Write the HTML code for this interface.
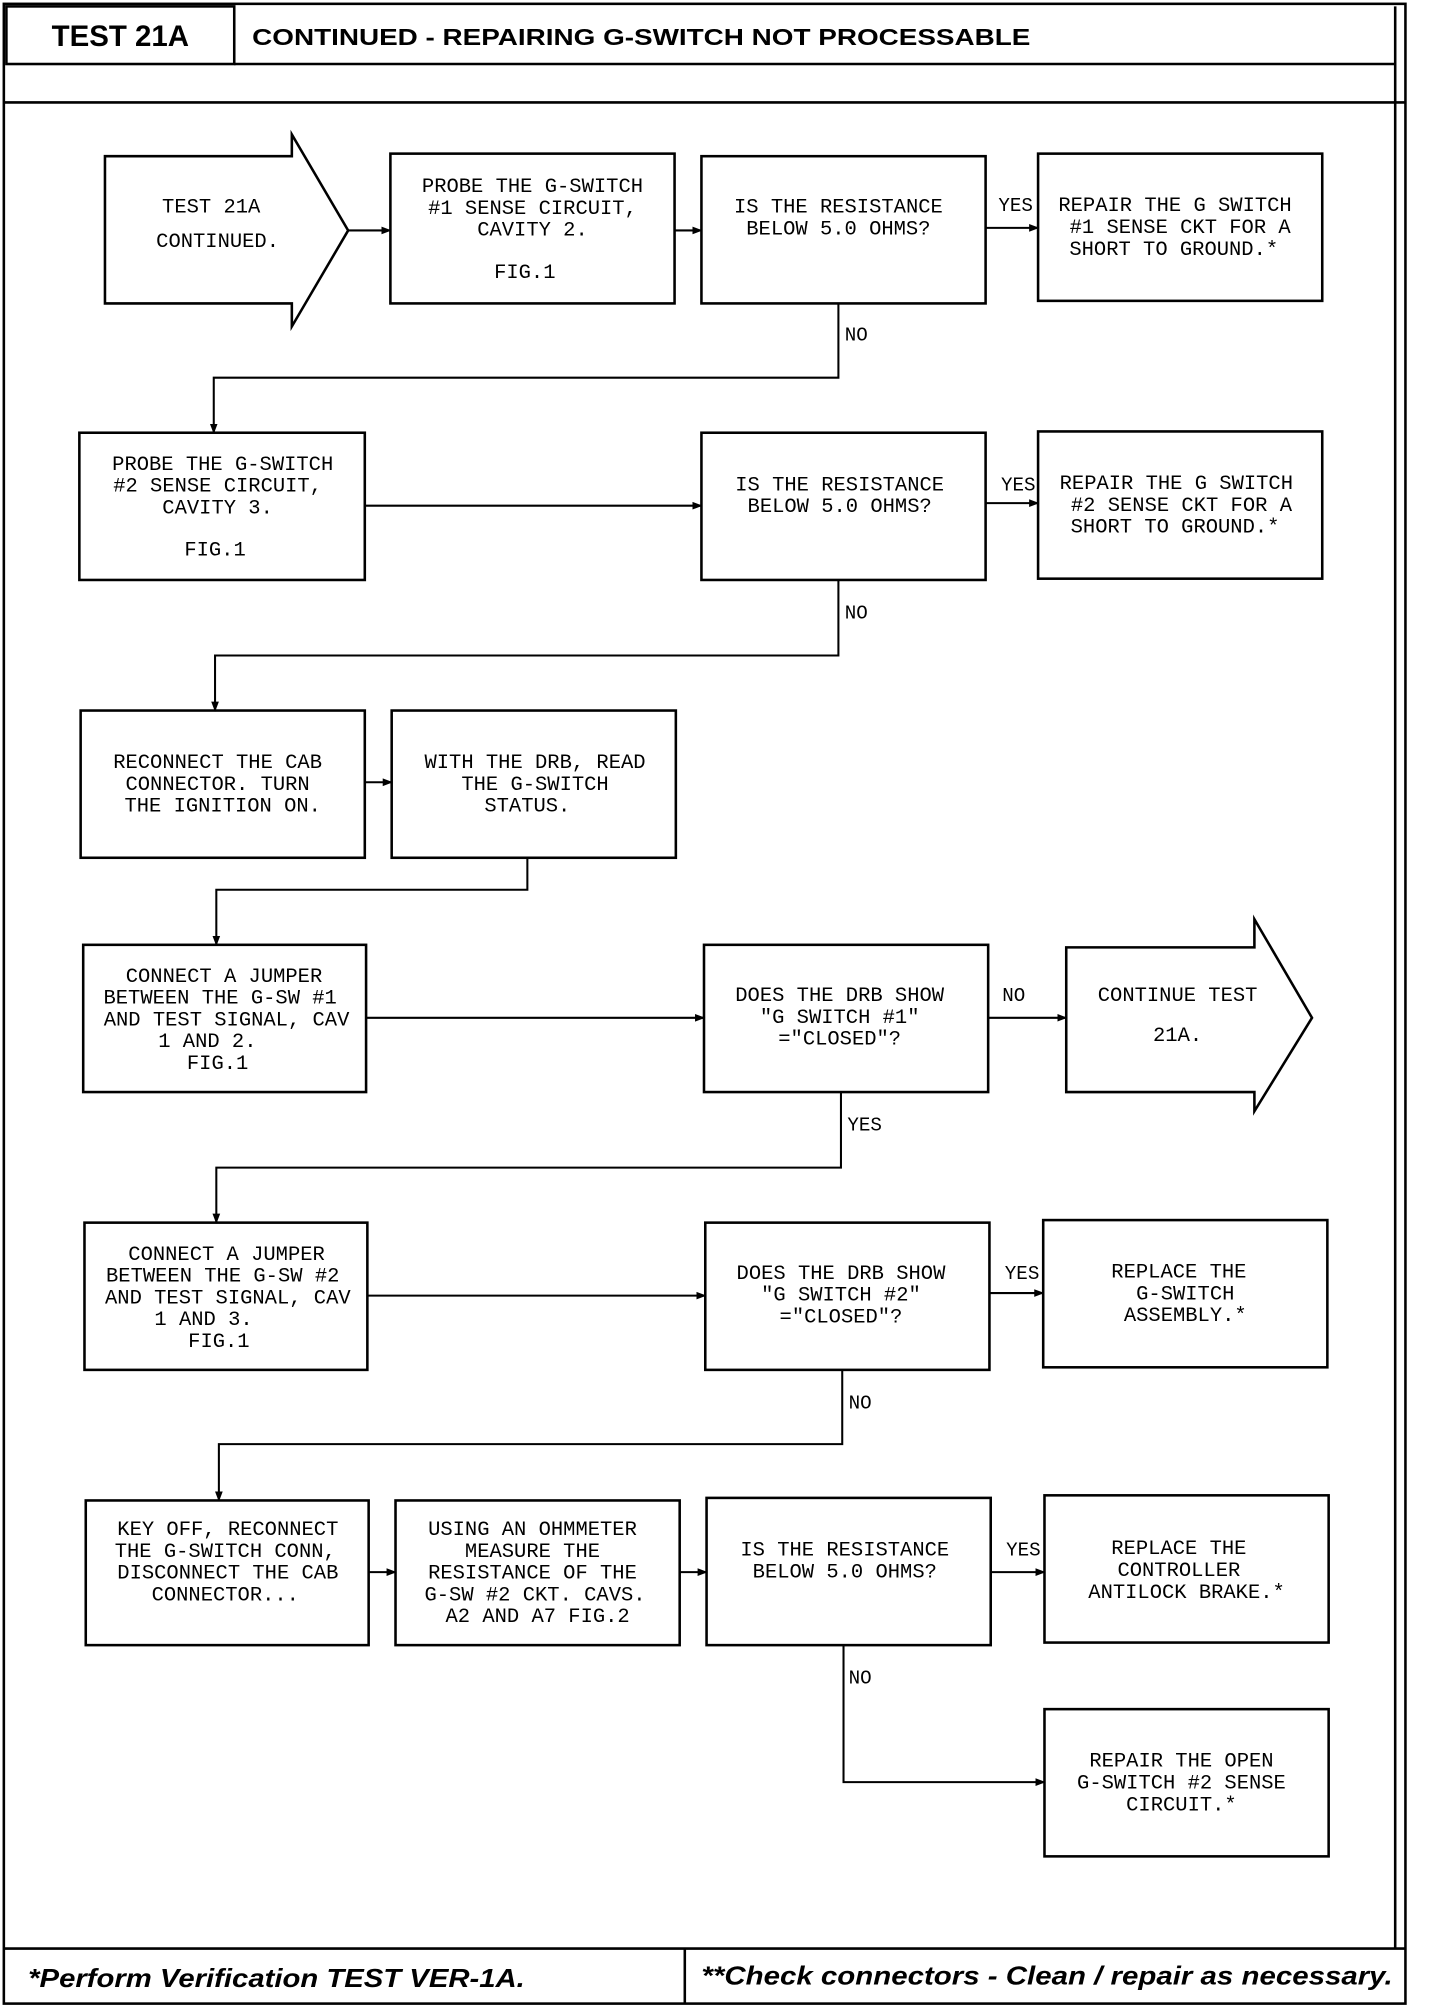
<!DOCTYPE html>
<html><head><meta charset="utf-8"><style>
html,body{margin:0;padding:0;background:#fff}
svg{display:block}
.t{font-family:"Liberation Mono",monospace;font-size:16px;fill:#000}
.l{font-family:"Liberation Mono",monospace;font-size:15px;fill:#000}
</style></head><body>
<svg width="1440" height="2010" viewBox="0 0 1125 1570" preserveAspectRatio="none" xmlns="http://www.w3.org/2000/svg">
<defs><marker id="a" markerWidth="8" markerHeight="8" refX="7" refY="4" orient="auto" markerUnits="userSpaceOnUse"><path d="M0,1 L8,4 L0,7 Z" fill="#000"/></marker></defs>
<g fill="none" stroke="#000" stroke-width="2">
<rect x="3" y="3" width="1095" height="1562"/>
<rect x="5" y="5" width="178" height="45"/>
<line x1="183" y1="50" x2="1090" y2="50"/>
<line x1="1090" y1="5" x2="1090" y2="1522"/>
<line x1="3" y1="80" x2="1098" y2="80"/>
<line x1="3" y1="1522" x2="1098" y2="1522"/>
<line x1="535" y1="1522" x2="535" y2="1565"/>
<!-- row1 -->
<path d="M82,122 H228 V105 L272,180 L228,255 V237 H82 Z"/>
<rect x="305" y="120" width="222" height="117"/>
<rect x="548" y="122" width="222" height="115"/>
<rect x="811" y="120" width="222" height="115"/>
<!-- row2 -->
<rect x="62" y="338" width="223" height="115"/>
<rect x="548" y="338" width="222" height="115"/>
<rect x="811" y="337" width="222" height="115"/>
<!-- row3 -->
<rect x="63" y="555" width="222" height="115"/>
<rect x="306" y="555" width="222" height="115"/>
<!-- row4 -->
<rect x="65" y="738" width="221" height="115"/>
<rect x="550" y="738" width="222" height="115"/>
<path d="M833,740 H980 V718 L1025,795 L980,868 V853 H833 Z"/>
<!-- row5 -->
<rect x="66" y="955" width="221" height="115"/>
<rect x="551" y="955" width="222" height="115"/>
<rect x="815" y="953" width="222" height="115"/>
<!-- row6 -->
<rect x="67" y="1172" width="221" height="113"/>
<rect x="309" y="1172" width="222" height="113"/>
<rect x="552" y="1170" width="222" height="115"/>
<rect x="816" y="1168" width="222" height="115"/>
<rect x="816" y="1335" width="222" height="115"/>
</g>
<g fill="none" stroke="#000" stroke-width="1.6" marker-end="url(#a)">
<line x1="272" y1="180" x2="305" y2="180"/>
<line x1="527" y1="180" x2="548" y2="180"/>
<line x1="770" y1="178" x2="811" y2="178"/>
<path d="M655,237 V295 H167 V338"/>
<line x1="285" y1="395" x2="548" y2="395"/>
<line x1="770" y1="393" x2="811" y2="393"/>
<path d="M655,453 V512 H168 V555"/>
<line x1="285" y1="611" x2="306" y2="611"/>
<path d="M412,670 V695 H169 V738"/>
<line x1="286" y1="795" x2="550" y2="795"/>
<line x1="772" y1="795" x2="833" y2="795"/>
<path d="M657,853 V912 H169 V955"/>
<line x1="287" y1="1012" x2="551" y2="1012"/>
<line x1="773" y1="1010" x2="815" y2="1010"/>
<path d="M658,1070 V1128 H171 V1172"/>
<line x1="288" y1="1228" x2="309" y2="1228"/>
<line x1="531" y1="1228" x2="552" y2="1228"/>
<line x1="774" y1="1228" x2="816" y2="1228"/>
<path d="M659,1285 V1392 H816"/>
</g>
<text x="94" y="36" text-anchor="middle" font-family="Liberation Sans,sans-serif" font-weight="bold" font-size="23">TEST 21A</text>
<text x="197" y="35" font-family="Liberation Sans,sans-serif" font-weight="bold" font-size="18" textLength="608" lengthAdjust="spacingAndGlyphs">CONTINUED - REPAIRING G-SWITCH NOT PROCESSABLE</text>
<text x="22" y="1552" font-family="Liberation Sans,sans-serif" font-weight="bold" font-style="italic" font-size="20" textLength="388" lengthAdjust="spacingAndGlyphs">*Perform Verification TEST VER-1A.</text>
<text x="548" y="1550" font-family="Liberation Sans,sans-serif" font-weight="bold" font-style="italic" font-size="20" textLength="540" lengthAdjust="spacingAndGlyphs">**Check connectors - Clean / repair as necessary.</text>
<g class="t" text-anchor="middle">
<text x="165" y="166">TEST 21A</text><text x="170" y="193">CONTINUED.</text>
<text x="416" y="150">PROBE THE G-SWITCH</text><text x="416" y="167">#1 SENSE CIRCUIT,</text><text x="416" y="184">CAVITY 2.</text><text x="410" y="217">FIG.1</text>
<text x="655" y="166">IS THE RESISTANCE</text><text x="655" y="183">BELOW 5.0 OHMS?</text>
<text x="918" y="165">REPAIR THE G SWITCH</text><text x="922" y="182">#1 SENSE CKT FOR A</text><text x="917" y="199">SHORT TO GROUND.*</text>
<text x="174" y="367">PROBE THE G-SWITCH</text><text x="170" y="384">#2 SENSE CIRCUIT,</text><text x="170" y="401">CAVITY 3.</text><text x="168" y="434">FIG.1</text>
<text x="656" y="383">IS THE RESISTANCE</text><text x="656" y="400">BELOW 5.0 OHMS?</text>
<text x="919" y="382">REPAIR THE G SWITCH</text><text x="923" y="399">#2 SENSE CKT FOR A</text><text x="918" y="416">SHORT TO GROUND.*</text>
<text x="170" y="600">RECONNECT THE CAB</text><text x="170" y="617">CONNECTOR. TURN</text><text x="174" y="634">THE IGNITION ON.</text>
<text x="418" y="600">WITH THE DRB, READ</text><text x="418" y="617">THE G-SWITCH</text><text x="412" y="634">STATUS.</text>
<text x="175" y="767">CONNECT A JUMPER</text><text x="172" y="784">BETWEEN THE G-SW #1</text><text x="177" y="801">AND TEST SIGNAL, CAV</text><text x="162" y="818">1 AND 2.</text><text x="170" y="835">FIG.1</text>
<text x="656" y="782">DOES THE DRB SHOW</text><text x="656" y="799">"G SWITCH #1"</text><text x="656" y="816">="CLOSED"?</text>
<text x="920" y="782">CONTINUE TEST</text><text x="920" y="813">21A.</text>
<text x="177" y="984">CONNECT A JUMPER</text><text x="174" y="1001">BETWEEN THE G-SW #2</text><text x="178" y="1018">AND TEST SIGNAL, CAV</text><text x="159" y="1035">1 AND 3.</text><text x="171" y="1052">FIG.1</text>
<text x="657" y="999">DOES THE DRB SHOW</text><text x="657" y="1016">"G SWITCH #2"</text><text x="657" y="1033">="CLOSED"?</text>
<text x="921" y="998">REPLACE THE</text><text x="926" y="1015">G-SWITCH</text><text x="926" y="1032">ASSEMBLY.*</text>
<text x="178" y="1199">KEY OFF, RECONNECT</text><text x="176" y="1216">THE G-SWITCH CONN,</text><text x="178" y="1233">DISCONNECT THE CAB</text><text x="176" y="1250">CONNECTOR...</text>
<text x="416" y="1199">USING AN OHMMETER</text><text x="416" y="1216">MEASURE THE</text><text x="416" y="1233">RESISTANCE OF THE</text><text x="418" y="1250">G-SW #2 CKT. CAVS.</text><text x="420" y="1267">A2 AND A7 FIG.2</text>
<text x="660" y="1215">IS THE RESISTANCE</text><text x="660" y="1232">BELOW 5.0 OHMS?</text>
<text x="921" y="1214">REPLACE THE</text><text x="921" y="1231">CONTROLLER</text><text x="927" y="1248">ANTILOCK BRAKE.*</text>
<text x="923" y="1380">REPAIR THE OPEN</text><text x="923" y="1397">G-SWITCH #2 SENSE</text><text x="923" y="1414">CIRCUIT.*</text>
</g>
<g class="l">
<text x="780" y="165">YES</text><text x="660" y="266">NO</text>
<text x="782" y="383">YES</text><text x="660" y="483">NO</text>
<text x="783" y="782">NO</text><text x="662" y="883">YES</text>
<text x="785" y="999">YES</text><text x="663" y="1100">NO</text>
<text x="786" y="1215">YES</text><text x="663" y="1315">NO</text>
</g>
</svg>
</body></html>
